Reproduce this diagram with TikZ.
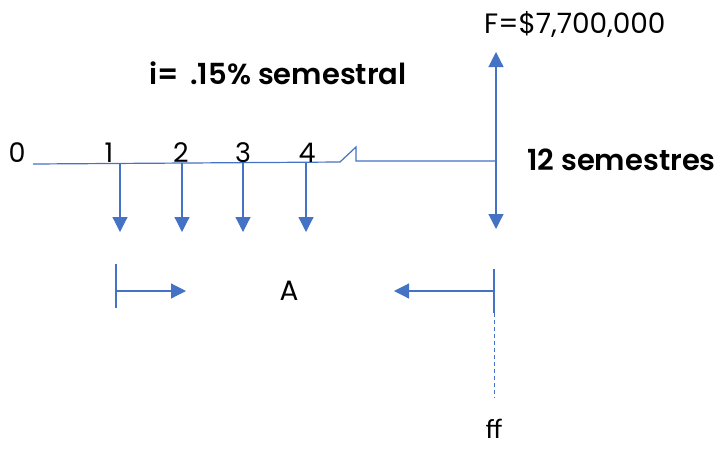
\documentclass[tikz,border=0pt]{standalone}
\usepackage{fontspec}
\setmainfont{Poppins}[BoldFont={Poppins SemiBold}]
\newfontfamily\ffont{Carlito}
\usetikzlibrary{arrows.meta}
\definecolor{lineblue}{HTML}{4472C4}
\tikzset{
  ln/.style={draw=lineblue, line width=1.2pt},
  arr/.style={ln, -{Triangle[width=15pt,length=15pt]}},
  dig/.style={inner sep=0pt, font=\fontsize{27}{32}\selectfont},
  lbl/.style={inner sep=0pt, font=\fontsize{28}{33}\selectfont},
  blbl/.style={inner sep=0pt, font=\fontsize{29}{34}\selectfont\bfseries},
}
\begin{document}
\begin{tikzpicture}[x=1pt,y=-1pt]
\useasboundingbox (0,0) rectangle (727,448);
% time line
\coordinate (L0) at (33,164);
\coordinate (B1) at (340,162);
\coordinate (B2) at (356,147);
\coordinate (B3) at (356,161);
\coordinate (R) at (496,161);
\draw[ln] (L0) -- (B1) -- (B2) -- (B3) -- (R);
% ticks
\coordinate (t1) at (120,163.5);
\coordinate (t2) at (182,163);
\coordinate (t3) at (243,162.8);
\coordinate (t4) at (306,162.5);
\coordinate (d1) at (120,232);
\coordinate (d2) at (182,232);
\coordinate (d3) at (243,232);
\coordinate (d4) at (306,232);
\foreach \k in {1,2,3,4} \draw[arr] (t\k) -- (d\k);
% labels
\node[dig] (n0) at (17,153) {0};
\node[dig] (n1) at (109,153) {1};
\node[dig] (n2) at (181,153) {2};
\node[dig] (n3) at (243,153) {3};
\node[dig] (n4) at (307,153) {4};
% future value arrow
\coordinate (Fup) at (496,52);
\coordinate (Fdn) at (496,229);
\draw[arr] (R) -- (Fup);
\draw[arr] (R) -- (Fdn);
\node[lbl, anchor=west] (F) at (484,24) {F=\$7,700,000};
\node[blbl] (i) at (278,73) {i=\hspace{0.4em}.15\% semestral};
\node[blbl, anchor=west] (sem) at (527,160) {12 semestres};
% annuity span
\coordinate (a1t) at (116,264);
\coordinate (a1b) at (116,308);
\coordinate (a1m) at (116,291);
\coordinate (a1e) at (186,291);
\draw[ln] (a1t) -- (a1b);
\draw[arr] (a1m) -- (a1e);
\node[lbl] (A) at (289,291) {A};
\coordinate (a2t) at (494,269);
\coordinate (a2b) at (494,313);
\coordinate (a2m) at (494,291);
\coordinate (a2e) at (394,291);
\coordinate (a2d) at (494,398);
\draw[ln] (a2t) -- (a2b);
\draw[arr] (a2m) -- (a2e);
\draw[ln, dashed, dash pattern=on 4pt off 3pt, line width=1pt] (a2b) -- (a2d);
\node[inner sep=0pt, font=\ffont\fontsize{28}{34}\selectfont] (ff) at (494,429) {ff};
\end{tikzpicture}
\end{document}
